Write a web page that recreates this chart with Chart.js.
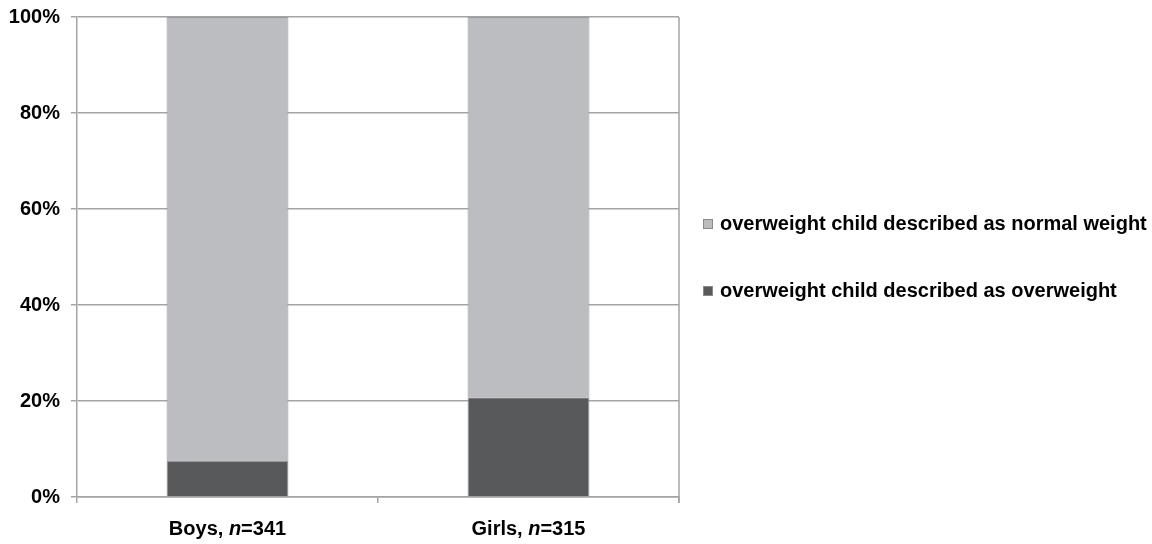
<!DOCTYPE html>
<html>
<head>
<meta charset="utf-8">
<script src="https://cdn.jsdelivr.net/npm/chart.js@4.4.0/dist/chart.umd.min.js"></script>
<style>
    body { margin: 0; background: #fff; }
    #wrap { position: relative; width: 1152px; height: 544px; }
    #legend { position: absolute; left: 703px; top: 0; font: bold 20px "Liberation Sans", Arial, sans-serif; color: #000; }
    .legend_item { position: absolute; white-space: nowrap; display: flex; align-items: center; }
    .legend_box { width: 8px; height: 8px; margin-right: 7px; border: 1px solid #8a8a8a; }
</style>
</head>
<body>
<div id="wrap">
    <canvas id="chart" width="1152" height="544"></canvas>
    <div id="legend"></div>
</div>
<script>
// data
var groups = ["Boys", "Girls"];
var sample_sizes = [341, 315];
var described_overweight = [7.5, 20.8];
var described_normal = [92.5, 79.2];
var y_ticks = [0, 20, 40, 60, 80, 100];
var series_names = ["overweight child described as overweight", "overweight child described as normal weight"];

var font_family = '"Liberation Sans", Arial, sans-serif';
var grid_color = "#a4a4a4";

//x labels with italic n, drawn under each category
var group_labels = {
    id: "group_labels",
    afterDraw: function(chart) {
        var ctx = chart.ctx;
        var x_scale = chart.scales.x;
        ctx.save();
        ctx.fillStyle = "#000";
        ctx.textBaseline = "middle";
        for (var i = 0; i < groups.length; i++) {
            var parts = [
                {text: groups[i] + ", ", font: "bold 20px " + font_family},
                {text: "n", font: "italic bold 20px " + font_family},
                {text: "=" + sample_sizes[i], font: "bold 20px " + font_family}
            ];
            var total = 0;
            for (var p of parts) {
                ctx.font = p.font;
                p.w = ctx.measureText(p.text).width;
                total += p.w;
            }
            var x = x_scale.getPixelForTick(i) - total / 2;
            var y = chart.chartArea.bottom + 32;
            for (var p of parts) {
                ctx.font = p.font;
                ctx.fillText(p.text, x, y);
                x += p.w;
            }
        }
        //right border of plot area
        ctx.strokeStyle = grid_color;
        ctx.lineWidth = 1.5;
        ctx.beginPath();
        ctx.moveTo(chart.chartArea.right, chart.chartArea.top);
        ctx.lineTo(chart.chartArea.right, chart.chartArea.bottom + 6);
        ctx.stroke();
        ctx.restore();
    }
};

var chart = new Chart(document.getElementById("chart"), {
    type: "bar",
    data: {
        labels: groups,
        datasets: [
            {
                label: series_names[0],
                data: described_overweight,
                backgroundColor: "#58595b",
                borderColor: "#9a9a9a",
                borderWidth: 1
            },
            {
                label: series_names[1],
                data: described_normal,
                backgroundColor: "#bcbdc0",
                borderColor: "#9a9a9a",
                borderWidth: 1
            }
        ]
    },
    options: {
        responsive: false,
        animation: false,
        layout: {
            padding: {top: 17, right: 473, left: 0, bottom: 0}
        },
        plugins: {
            legend: {display: false},
            tooltip: {enabled: false}
        },
        datasets: {
            bar: {categoryPercentage: 1, barPercentage: 0.405}
        },
        scales: {
            x: {
                stacked: true,
                offset: true,
                grid: {
                    offset: true,
                    drawOnChartArea: false,
                    drawTicks: true,
                    tickLength: 6,
                    color: grid_color,
                    lineWidth: 1.5
                },
                border: {color: grid_color, width: 1.5},
                ticks: {display: false},
                afterFit: function(scale) { scale.height = 47; }
            },
            y: {
                stacked: true,
                min: 0,
                max: 100,
                afterBuildTicks: function(scale) {
                    scale.ticks = y_ticks.map(function(v) { return {value: v}; });
                },
                grid: {
                    color: grid_color,
                    lineWidth: 1.5,
                    tickLength: 6
                },
                border: {color: grid_color, width: 1.5},
                ticks: {
                    padding: 11,
                    color: "#000",
                    font: {family: font_family, size: 20, weight: "bold"},
                    callback: function(v) { return v + "%"; }
                },
                afterFit: function(scale) {
                    scale.width = 77;
                    scale.paddingTop = 0;
                    scale.paddingBottom = 0;
                }
            }
        }
    },
    plugins: [group_labels]
});

//legend, top series first
var legend = document.getElementById("legend");
var legend_tops = [224, 291];
var ordered = chart.data.datasets.slice().reverse();
for (var i = 0; i < ordered.length; i++) {
    var item = document.createElement("div");
    item.className = "legend_item";
    item.style.top = (legend_tops[i] - 12) + "px";
    var box = document.createElement("span");
    box.className = "legend_box";
    box.style.background = ordered[i].backgroundColor;
    var label = document.createElement("span");
    label.innerText = ordered[i].label;
    item.append(box);
    item.append(label);
    legend.append(item);
}
</script>
</body>
</html>
